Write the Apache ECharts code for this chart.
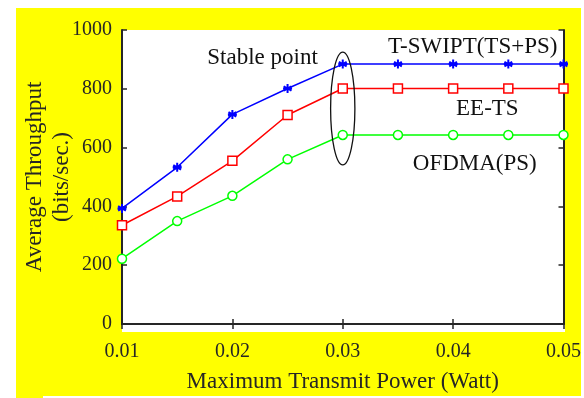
<!DOCTYPE html>
<html>
<head>
<meta charset="utf-8">
<script src="https://cdn.jsdelivr.net/npm/echarts@6/dist/echarts.min.js"></script>
<style>
  html, body { margin: 0; padding: 0; background: #ffffff; }
  #chart { width: 584px; height: 398px; }
</style>
</head>
<body>
<div id="chart"></div>
<script>
// Transmit power levels (Watt)
const powers = [0.01, 0.015, 0.02, 0.025, 0.03, 0.035, 0.04, 0.045, 0.05];
// Average throughput (bits/sec.) per scheme
const tswipt = [393, 533, 713, 801, 884, 884, 884, 884, 884];
const eets   = [336, 434, 555, 711, 801, 801, 801, 801, 801];
const ofdma  = [222, 350, 436, 560, 643, 643, 643, 643, 643];
const yTicks = [0, 200, 400, 600, 800, 1000];

const FONT = '"Liberation Serif", "Times New Roman", serif';
const INK = '#262626';

const asterisk = 'path://M0,-10 L0,10 M-8.66,-5 L8.66,5 M-8.66,5 L8.66,-5 M-10,0 L10,0';

function pairs(ys) { return powers.map((p, i) => [p, ys[i]]); }

const chart = echarts.init(document.getElementById('chart'));

const axisLine = { show: true, lineStyle: { color: INK, width: 2 } };
const axisTick = { show: true, inside: true, length: 5, lineStyle: { color: INK, width: 1.5 } };

chart.setOption({
  animation: false,
  backgroundColor: '#ffffff',
  grid: { left: 122, top: 30, right: 19, bottom: 66, containLabel: false },
  xAxis: [{
    type: 'value', min: 0.01, max: 0.05, interval: 0.01,
    position: 'bottom',
    axisLine, axisTick, splitLine: { show: false },
    axisLabel: { color: INK, fontFamily: FONT, fontSize: 20, margin: 18,
                 formatter: v => v.toFixed(2) },
    name: 'Maximum Transmit Power (Watt)', nameLocation: 'middle', nameGap: 46,
    nameMoveOverlap: false,
    nameTextStyle: { color: INK, fontFamily: FONT, fontSize: 23 }
  }, {
    type: 'value', min: 0.01, max: 0.05, interval: 0.01, position: 'top',
    axisLine, axisTick, axisLabel: { show: false }, splitLine: { show: false }
  }],
  yAxis: [{
    type: 'value', min: yTicks[0], max: yTicks[yTicks.length - 1], interval: 200,
    position: 'left',
    axisLine, axisTick, splitLine: { show: false },
    axisLabel: { color: INK, fontFamily: FONT, fontSize: 20, margin: 10,
                 formatter: v => String(v) },
    name: 'Average Throughput\n(bits/sec.)', nameLocation: 'middle', nameGap: 47,
    nameRotate: 90, nameMoveOverlap: false,
    nameTextStyle: { color: INK, fontFamily: FONT, fontSize: 23, lineHeight: 27 }
  }, {
    type: 'value', min: 0, max: 1000, interval: 200, position: 'right',
    axisLine, axisTick, axisLabel: { show: false }, splitLine: { show: false }
  }],
  series: [{
    name: 'T-SWIPT(TS+PS)', type: 'line', data: pairs(tswipt),
    symbol: asterisk, symbolSize: 9,
    lineStyle: { color: '#0000ff', width: 1.5 },
    itemStyle: { color: '#0000ff', borderColor: '#0000ff', borderWidth: 2 }
  }, {
    name: 'EE-TS', type: 'line', data: pairs(eets),
    symbol: 'rect', symbolSize: 9,
    lineStyle: { color: '#ff0000', width: 1.5 },
    itemStyle: { color: '#ffffff', borderColor: '#ff0000', borderWidth: 1.5 }
  }, {
    name: 'OFDMA(PS)', type: 'line', data: pairs(ofdma),
    symbol: 'circle', symbolSize: 9,
    lineStyle: { color: '#00ff00', width: 1.5 },
    itemStyle: { color: '#ffffff', borderColor: '#00ff00', borderWidth: 1.5 }
  }]
});

// Annotations placed in data coordinates
function px(x, y) { return chart.convertToPixel({ gridIndex: 0 }, [x, y]); }
function note(text, x, y) {
  const p = px(x, y);
  return { type: 'text', x: p[0], y: p[1], z: 10,
    style: { text, fill: '#111111', font: '23px ' + FONT, align: 'center', verticalAlign: 'middle' } };
}
const ellCenter = px(0.03, 733);
const ellTop = px(0.03, 925);
const ellSide = px(0.0311, 733);

chart.setOption({
  graphic: [
    { type: 'rect', z: -10, silent: true, shape: { x: 16, y: 8, width: 565, height: 390 },
      style: { fill: '#ffff00' } },
    { type: 'rect', z: -9, silent: true, shape: { x: 122, y: 30, width: 443, height: 302 },
      style: { fill: '#ffffff' } },
    { type: 'rect', z: 20, silent: true, shape: { x: 43, y: 396, width: 541, height: 2 },
      style: { fill: '#ffffff' } },
    { type: 'ellipse', z: 10, silent: true,
      shape: { cx: ellCenter[0], cy: ellCenter[1],
               rx: ellSide[0] - ellCenter[0], ry: ellCenter[1] - ellTop[1] },
      style: { fill: 'none', stroke: '#111111', lineWidth: 1.3 } },
    note('Stable point', 0.02273, 906),
    note('T-SWIPT(TS+PS)', 0.04178, 942),
    note('EE-TS', 0.0431, 730),
    note('OFDMA(PS)', 0.04196, 545)
  ]
});
</script>
</body>
</html>
